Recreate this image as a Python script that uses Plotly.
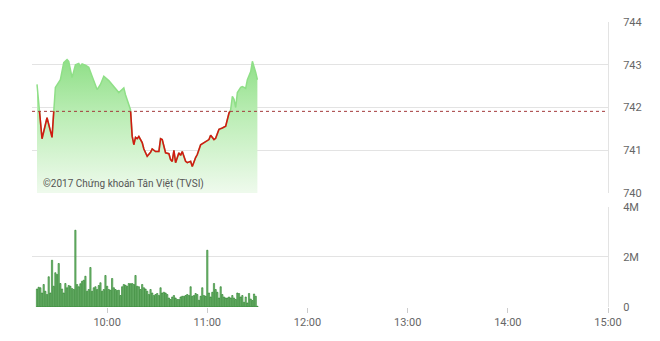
import plotly.graph_objects as go
import pandas as pd

DAY = "2017-06-01 "

# ---- price (VN-Index intraday) ----
price_times = ["09:18","09:21","09:24","09:27","09:29","09:32","09:34","09:36","09:37","09:39",
               "09:41","09:43","09:44","09:45","09:47","09:49","09:51","09:54","09:56","09:58",
               "10:01","10:04","10:06","10:07","10:10","10:11","10:14","10:15","10:16","10:17",
               "10:18","10:19","10:21","10:22","10:24","10:26","10:27","10:29","10:31","10:32",
               "10:33","10:35","10:37","10:38","10:39","10:40","10:41","10:43","10:44","10:45",
               "10:47","10:48","10:50","10:51","10:53","10:54","10:56","10:58","10:59","11:01",
               "11:02","11:04","11:05","11:07","11:09","11:11","11:13","11:14","11:15","11:16",
               "11:17","11:18","11:20","11:21","11:23","11:24","11:26","11:27","11:29","11:30"]
price_values = [742.54,741.27,741.76,741.30,742.47,742.65,743.05,743.12,743.08,742.70,
                743.00,743.03,742.96,743.02,742.99,742.94,742.73,742.42,742.54,742.73,
                742.63,742.49,742.42,742.35,742.46,742.30,741.95,741.33,741.13,741.30,
                741.27,741.32,741.18,741.03,740.86,740.95,741.03,740.97,740.97,741.27,
                741.25,740.94,740.92,740.78,740.74,741.00,740.71,740.94,740.88,740.97,
                740.74,740.71,740.74,740.62,740.83,740.90,741.13,741.18,741.20,741.25,
                741.35,741.25,741.28,741.49,741.52,741.56,741.87,741.95,742.26,742.19,
                742.00,742.35,742.47,742.49,742.45,742.65,742.84,743.08,742.82,742.65]
reference_price = 741.91

# ---- volume (millions of shares per minute, 09:18 .. 11:30) ----
volume_m = [0.72,0.79,0.77,0.56,0.90,0.63,0.50,1.21,0.56,1.87,
            0.83,1.37,1.30,1.74,0.94,0.72,0.56,0.94,0.77,0.86,
            0.83,0.74,0.70,3.07,0.90,0.81,0.93,1.03,1.07,1.23,
            0.63,0.70,1.58,0.63,0.77,0.81,0.70,0.86,0.97,0.63,
            0.70,1.26,0.83,0.70,0.67,1.14,0.77,0.70,0.66,0.67,
            0.46,0.81,0.90,0.87,0.83,0.94,0.93,0.94,0.90,1.26,
            0.83,0.81,0.70,0.90,0.77,0.72,0.63,0.50,0.70,0.56,
            0.46,0.50,0.54,0.46,0.77,0.56,0.59,0.56,0.50,0.36,
            0.30,0.40,0.46,0.36,0.30,0.30,0.40,0.43,0.43,0.46,
            0.50,0.46,0.81,0.43,0.46,0.54,0.50,0.27,0.43,0.77,
            0.46,0.43,2.27,0.56,0.40,0.59,0.94,0.70,0.59,0.36,
            0.81,0.50,0.40,0.36,0.36,0.40,0.36,0.46,0.36,0.30,
            0.56,0.54,0.40,0.46,0.19,0.40,0.16,0.54,0.32,0.26,
            0.52,0.43,0.03]
volume_times = pd.date_range(DAY + "09:18", periods=len(volume_m), freq="1min")
volume_values = [v * 1e6 for v in volume_m]

y_ticks = [740, 741, 742, 743, 744]
vol_ticks = [0, 2e6, 4e6]
vol_tick_text = ["0", "2M", "4M"]
x_ticks = ["10:00", "11:00", "12:00", "13:00", "14:00", "15:00"]
watermark = "©2017 Chứng khoán Tân Việt (TVSI)"

px = [pd.Timestamp(DAY + t) for t in price_times]
x_range = [pd.Timestamp(DAY + "09:15"), pd.Timestamp(DAY + "15:00")]

TOP_DOM = [0.40, 1.0]
VOL_DOM = [0.0, 0.351]
ymin, ymax = y_ticks[0], y_ticks[-1]
red_top = TOP_DOM[0] + (TOP_DOM[1] - TOP_DOM[0]) * (reference_price - ymin) / (ymax - ymin)

GREEN = "#8fdf87"
RED = "#d11a12"
GRID = "#e3e3e3"
TXT = "#666666"
FONT = "Roboto"

fig = go.Figure()

# green area + line
fig.add_trace(go.Scatter(
    x=px, y=price_values, mode="lines", xaxis="x", yaxis="y",
    line=dict(color=GREEN, width=1.5), fill="tozeroy",
    fillgradient=dict(type="vertical", start=ymin, stop=743.1,
                      colorscale=[[0, "rgba(238,250,236,1)"], [0.55, "rgba(190,238,184,1)"], [1, "rgba(143,223,135,1)"]]),
    hoverinfo="skip", showlegend=False))

# red line (clipped below reference via its own axis)
fig.add_trace(go.Scatter(
    x=px, y=price_values, mode="lines", xaxis="x", yaxis="y3",
    line=dict(color=RED, width=1.6), hoverinfo="skip", showlegend=False))

# volume bars
fig.add_trace(go.Bar(
    x=volume_times, y=volume_values, xaxis="x2", yaxis="y2",
    marker=dict(color="#86c486", line=dict(color="#1f7a1f", width=0.6)),
    width=60000 * 0.75, hoverinfo="skip", showlegend=False))

fig.add_shape(type="line", xref="x domain", yref="y", x0=0, x1=1,
              y0=reference_price, y1=reference_price,
              line=dict(color="#a3393a", width=1, dash="dot"))

fig.add_annotation(text=watermark, xref="paper", yref="paper",
                   x=0.0156, y=0.4316, xanchor="left", yanchor="middle",
                   showarrow=False, font=dict(family=FONT, size=10, color="#555555"))

tickvals_x = [pd.Timestamp(DAY + t) for t in x_ticks]

fig.update_layout(
    width=660, height=341,
    margin=dict(l=32, r=52, t=22, b=34),
    paper_bgcolor="white", plot_bgcolor="rgba(0,0,0,0)",
    font=dict(family=FONT, size=11, color=TXT),
    bargap=0.2,
    xaxis=dict(domain=[0, 1], anchor="y", range=x_range, type="date",
               showticklabels=False, showgrid=False, zeroline=False, ticks=""),
    yaxis=dict(domain=TOP_DOM, anchor="x", range=[ymin, ymax], side="right",
               tickvals=y_ticks, showgrid=True, gridcolor=GRID, gridwidth=1,
               zeroline=False, showline=True, linecolor=GRID, linewidth=1,
               ticks="", ticklabelstandoff=12, tickfont=dict(size=11, color=TXT)),
    yaxis3=dict(domain=[TOP_DOM[0], red_top], anchor="x", range=[ymin, reference_price],
                visible=False, fixedrange=True),
    xaxis2=dict(domain=[0, 1], anchor="y2", range=x_range, type="date",
                tickvals=tickvals_x, ticktext=x_ticks, showgrid=False, zeroline=False,
                ticks="outside", ticklen=5, tickcolor="#cccccc",
                tickfont=dict(size=11, color=TXT), showline=False),
    yaxis2=dict(domain=VOL_DOM, anchor="x2", range=[0, 4e6], side="right",
                tickvals=vol_ticks, ticktext=vol_tick_text, showgrid=True,
                gridcolor=GRID, zeroline=False, showline=True, linecolor=GRID,
                ticks="", ticklabelstandoff=12, tickfont=dict(size=11, color=TXT)),
)

fig.write_html("out.html")
